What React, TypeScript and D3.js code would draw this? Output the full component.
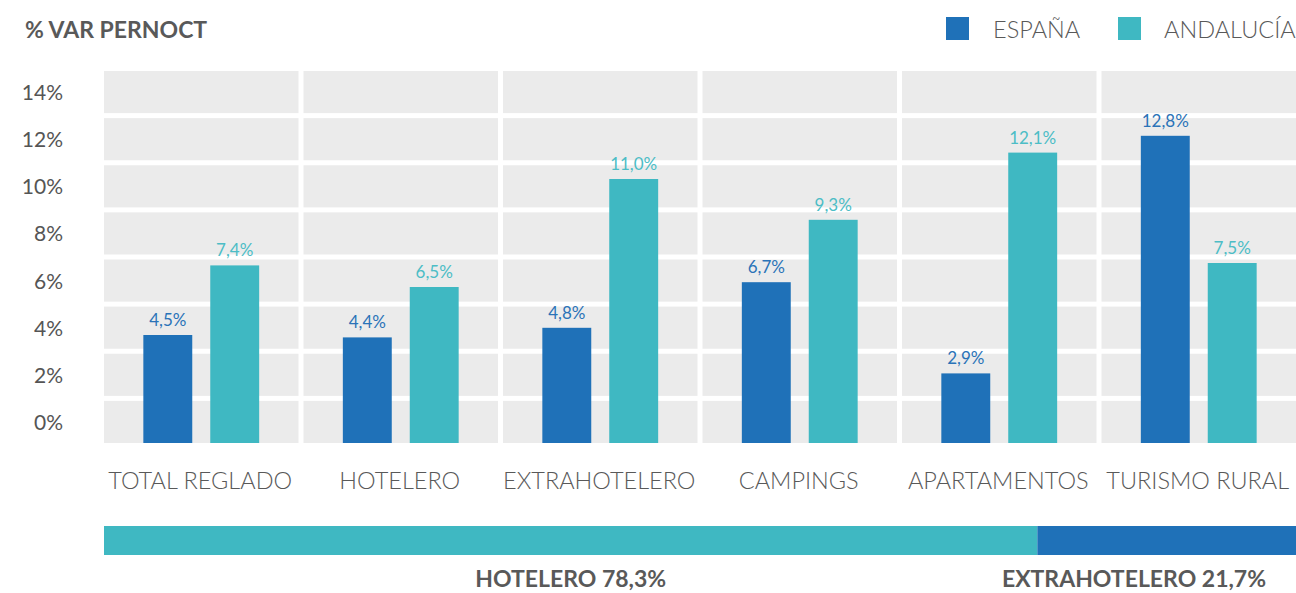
import React from "react";
import * as d3 from "d3";

// categorías y valores (% var. pernoctaciones)
const categories = ["TOTAL REGLADO", "HOTELERO", "EXTRAHOTELERO", "CAMPINGS", "APARTAMENTOS", "TURISMO RURAL"];
const series = ["ESPAÑA", "ANDALUCÍA"];
const espana = [4.5, 4.4, 4.8, 6.7, 2.9, 12.8];
const andalucia = [7.4, 6.5, 11.0, 9.3, 12.1, 7.5];
const yTicks = [14, 12, 10, 8, 6, 4, 2, 0];

// reparto inferior
const shareLabels = ["HOTELERO", "EXTRAHOTELERO"];
const shareValues = [78.3, 21.7];

const W = 1296;
const H = 593;
const FONT = "Lato, 'Open Sans', sans-serif";
const TEXT = "#595959";
const colors: Record<string, string> = { "ESPAÑA": "#1f71b8", "ANDALUCÍA": "#3fb8c2" };
const labelColors: Record<string, string> = { "ESPAÑA": "#2a73b8", "ANDALUCÍA": "#4cbdc6" };

const fmt = (v: number) => v.toFixed(1).replace(".", ",") + "%";

const plot = { left: 104, right: 1296, top: 71, bottom: 443 };

export default function App() {
  const x0 = d3.scaleBand<string>().domain(categories).range([plot.left, plot.right]).paddingInner(0.025);
  const x1 = d3.scaleBand<string>().domain(series).range([0, x0.bandwidth()]).paddingInner(0.269).paddingOuter(0.588);
  const yBand = d3.scaleBand<number>().domain(yTicks).range([plot.top, plot.bottom]).paddingInner(0.106);
  const y = d3.scaleLinear().domain([0, 15.5]).range([plot.bottom, plot.top]);

  const rows = categories.map((c, i) => ({ cat: c, values: [espana[i], andalucia[i]] }));

  // barra de reparto
  const sx = d3.scaleLinear().domain([0, d3.sum(shareValues)]).range([plot.left, plot.right]);
  const stacked = shareValues.map((v, i) => {
    const start = d3.sum(shareValues.slice(0, i));
    return { label: shareLabels[i], value: v, x0: sx(start), x1: sx(start + v) };
  });
  const shareColors = [colors["ANDALUCÍA"], colors["ESPAÑA"]];

  return (
    <svg width={W} height={H} style={{ position: "absolute", left: 0, top: 0, fontFamily: FONT }}>
      <rect width={W} height={H} fill="#fff" />

      {/* título */}
      <text x={25} y={38} fontSize={23} fontWeight={700} fill={TEXT}>% VAR PERNOCT</text>

      {/* leyenda */}
      {series.map((s, i) => {
        const lx = i === 0 ? 946 : 1118;
        return (
          <g key={s} transform={`translate(${lx},17)`}>
            <rect width={23} height={23} fill={colors[s]} />
            <text x={i === 0 ? 47 : 46} y={21} fontSize={23.5} fontWeight={300} fill={TEXT}>{s}</text>
          </g>
        );
      })}

      {/* celdas grises */}
      {categories.map((c) =>
        yTicks.map((t) => (
          <rect key={c + t} x={x0(c)} y={yBand(t)} width={x0.bandwidth()} height={yBand.bandwidth()} fill="#ebebeb" />
        ))
      )}

      {/* eje y */}
      {yTicks.map((t) => (
        <text key={t} x={63} y={(yBand(t) as number) + yBand.bandwidth() / 2 + 8} textAnchor="end" fontSize={21} fontWeight={400} fill="#555">
          {t}%
        </text>
      ))}

      {/* barras */}
      {rows.map((r) => (
        <g key={r.cat} transform={`translate(${x0(r.cat)},0)`}>
          {r.values.map((v, j) => {
            const s = series[j];
            const bx = x1(s) as number;
            return (
              <g key={s}>
                <rect x={bx} y={y(v)} width={x1.bandwidth()} height={y(0) - y(v)} fill={colors[s]} />
                <text x={bx + x1.bandwidth() / 2} y={y(v) - 9} textAnchor="middle" fontSize={17} fill={labelColors[s]}>
                  {fmt(v)}
                </text>
              </g>
            );
          })}
          <text x={x0.bandwidth() / 2 - 1} y={489} textAnchor="middle" fontSize={23.5} fontWeight={300} fill={TEXT}>
            {r.cat}
          </text>
        </g>
      ))}

      {/* reparto hotelero / extrahotelero */}
      {stacked.map((d, i) => (
        <g key={d.label}>
          <rect x={d.x0} y={526} width={d.x1 - d.x0} height={29} fill={shareColors[i]} />
          <text
            x={Math.min((d.x0 + d.x1) / 2, plot.right - 162)}
            y={587}
            textAnchor="middle"
            fontSize={23}
            fontWeight={700}
            fill={TEXT}
          >
            {d.label} {fmt(d.value)}
          </text>
        </g>
      ))}
    </svg>
  );
}
